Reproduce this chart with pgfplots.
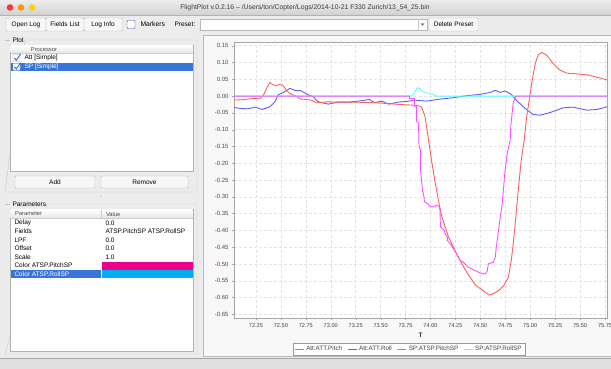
\documentclass[border=0pt]{standalone}
\usepackage{fontspec}
\setmainfont{Liberation Sans}
\usepackage{pgfplots}
\pgfplotsset{compat=1.18}
\definecolor{pitchc}{RGB}{255,95,95}
\definecolor{rollc}{RGB}{95,95,255}
\definecolor{pitchspc}{RGB}{255,80,255}
\definecolor{rollspc}{RGB}{90,255,255}
\definecolor{winbg}{RGB}{236,236,236}
\definecolor{selblue}{RGB}{56,117,215}
\definecolor{panelbg}{RGB}{248,248,248}
\newcommand\sm{\fontsize{6.5}{7}\selectfont}
\newcommand\tk{\fontsize{5.6}{6}\selectfont}
\begin{document}
\begin{tikzpicture}
\useasboundingbox (0pt,0pt) rectangle (611pt,-369pt);
\begin{scope}[x=1pt,y=-1pt]
% window background
\fill[winbg] (0,0) rectangle (611,369);
% title bar
\shade[top color=white!93!black, bottom color=white!82!black] (0,0) rectangle (611,15);
\draw[gray!60] (0,15) -- (611,15);
\fill[red!80!white] (10,7.5) circle (3.3);
\fill[orange!85!yellow] (21,7.5) circle (3.3);
\fill[yellow!70!orange] (32,7.5) circle (3.3);
\node[font=\fontsize{6.8}{7}\selectfont, text=black!75] at (305,7.5) {FlightPlot v.0.2.16 -- /Users/ton/Copter/Logs/2014-10-21 F330 Zurich/13\_54\_25.bin};
% toolbar
\tikzset{btn/.style={draw=gray!55, fill=white!97!black, rounded corners=1pt}}
\draw[btn] (6,18) rectangle (46,31);
\node[font=\sm] at (26,24.5) {Open Log};
\draw[btn] (46,18) rectangle (84,31);
\node[font=\sm] at (65,24.5) {Fields List};
\draw[btn] (84,18) rectangle (122,31);
\node[font=\sm] at (103,24.5) {Log Info};
\draw[rounded corners=1pt, draw=blue!50!gray, fill=white] (127,20.5) rectangle (135,28.5);
\node[font=\fontsize{6.8}{7}\selectfont, anchor=west] at (137,24.5) {Markers};
\node[font=\sm, anchor=west] at (171,24.5) {Preset:};
\draw[draw=gray!55, fill=white] (200,19) rectangle (427,30);
\fill[gray] (420.5,23.3) -- (424.5,23.3) -- (422.5,26) -- cycle;
\draw[gray!40] (418,19) -- (418,30);
\draw[btn] (429,18) rectangle (478,31);
\node[font=\sm] at (453.5,24.5) {Delete Preset};
% left panel: Plot group
\draw[gray!45] (5,40) -- (10,40);
\draw[gray!45] (25,40) -- (197,40) -- (197,192) -- (5,192) -- cycle;
\node[font=\sm, anchor=west] at (9,40) {Plot};
\fill[white] (10,45) rectangle (193,171);
\draw[gray!60] (10,45) rectangle (193,171);
\shade[top color=white, bottom color=gray!20] (10.5,45.5) rectangle (192.5,53);
\draw[gray!40] (10.5,53) -- (192.5,53);
\node[font=\fontsize{5.8}{6}\selectfont, text=black!70] at (44,49.3) {Processor};
% rows
\draw[fill=white, draw=gray!70, rounded corners=0.8pt] (13,54.5) rectangle (20,61.5);
\draw[selblue!90!black, line width=0.9pt] (14.3,58) -- (16.3,60.3) -- (20.5,54);
\node[font=\sm, anchor=west] at (21,58.2) {Att [Simple]};
\fill[selblue] (10.5,62.7) rectangle (192.5,71);
\draw[fill=white, draw=gray!70, rounded corners=0.8pt] (13,63.3) rectangle (20,70.3);
\draw[selblue!90!black, line width=0.9pt] (14.3,66.8) -- (16.3,69.1) -- (20.5,62.8);
\node[font=\sm, anchor=west, text=white] at (21,67) {SP [Simple]};
% add/remove buttons
\draw[btn] (15,176) rectangle (95,188);
\node[font=\sm] at (55,182) {Add};
\draw[btn] (101,176) rectangle (188,188);
\node[font=\sm] at (144.5,182) {Remove};
\fill[gray!60] (101,196) circle (0.6);
% Parameters group
\draw[gray!45] (5,204) -- (10,204);
\draw[gray!45] (47,204) -- (197,204) -- (197,354) -- (5,354) -- cycle;
\node[font=\sm, anchor=west] at (9,204) {Parameters};
\fill[white] (10,209) rectangle (193,351);
\draw[gray!60] (10,209) rectangle (193,351);
\shade[top color=white, bottom color=gray!20] (10.5,209.5) rectangle (192.5,218);
\draw[gray!40] (10.5,218) -- (192.5,218);
\draw[gray!40] (101,209.5) -- (101,218);
\node[font=\fontsize{5.8}{6}\selectfont, text=black!70, anchor=west] at (11.5,214) {Parameter};
\node[font=\fontsize{5.8}{6}\selectfont, text=black!70, anchor=west] at (102.5,214) {Value};
\node[font=\sm, anchor=west] at (11,223) {Delay};
\node[font=\sm, anchor=west] at (102,223) {0.0};
\node[font=\sm, anchor=west] at (11,231.5) {Fields};
\node[font=\sm, anchor=west] at (102,231.5) {ATSP.PitchSP ATSP.RollSP};
\node[font=\sm, anchor=west] at (11,240) {LPF};
\node[font=\sm, anchor=west] at (102,240) {0.0};
\node[font=\sm, anchor=west] at (11,248.5) {Offset};
\node[font=\sm, anchor=west] at (102,248.5) {0.0};
\node[font=\sm, anchor=west] at (11,257) {Scale};
\node[font=\sm, anchor=west] at (102,257) {1.0};
\node[font=\sm, anchor=west] at (11,265.5) {Color ATSP.PitchSP};
\fill[magenta] (102,262) rectangle (192.5,270);
\fill[selblue] (10.5,270.3) rectangle (100.5,278.3);
\node[font=\sm, anchor=west, text=white] at (11,274.3) {Color ATSP.RollSP};
\fill[cyan] (102,270.3) rectangle (192.5,278.3);
% chart panel
\fill[panelbg] (203,35) rectangle (611,356);
\draw[gray!55] (203,35) -- (611,35);
\draw[gray!55] (203,35) -- (203,356) -- (611,356);
% bottom bar
\fill[white!88!black] (0,358) rectangle (611,369);
\draw[gray!70] (0,358) -- (611,358);
\end{scope}
\begin{axis}[
  at={(234pt,-318pt)}, anchor=south west,
  scale only axis, width=373pt, height=276pt,
  xmin=72.03, xmax=75.77, ymin=-0.661, ymax=0.161,
  axis background/.style={fill=white},
  xtick={72.25,72.5,72.75,73,73.25,73.5,73.75,74,74.25,74.5,74.75,75,75.25,75.5,75.75},
  ytick={-0.65,-0.6,-0.55,-0.5,-0.45,-0.4,-0.35,-0.3,-0.25,-0.2,-0.15,-0.1,-0.05,0,0.05,0.1,0.15},
  tick pos=left, tick align=outside, major tick length=2pt,
  tick style={gray!70},
  axis line style={gray!70},
  grid=major, major grid style={densely dashed, gray!22, line width=0.4pt},
  xticklabel style={font=\tk, text=black!75},
  yticklabel style={font=\fontsize{6}{6}\selectfont, text=black!70},
  /pgf/number format/fixed,
  /pgf/number format/fixed zerofill,
  /pgf/number format/precision=2,
  /pgf/number format/assume math mode=true,
  xlabel={T},
  xlabel style={font=\fontsize{6.5}{7}\selectfont\bfseries, text=black!80, at={(axis description cs:0.5,-0.043)}, anchor=north},
  legend columns=4,
  legend style={name=leg, at={(0.469,-0.09)}, anchor=north, draw=none, fill=white, font=\fontsize{6.3}{7}\selectfont, inner sep=1pt,
    /tikz/every even column/.append style={column sep=3pt}},
  clip=true,
]
\addplot[rollc, line width=0.9pt, forget plot] coordinates {
(72.03,-0.034)(72.10,-0.037)(72.17,-0.038)(72.24,-0.033)(72.31,-0.040)(72.39,-0.032)(72.44,-0.017)(72.474,0.004)(72.524,0.010)(72.59,0.023)(72.64,0.017)(72.70,0.016)(72.77,0.004)(72.825,-0.002)(72.875,-0.017)(72.975,-0.024)(73.075,-0.018)(73.18,-0.018)(73.28,-0.015)(73.39,-0.010)(73.44,-0.020)(73.51,-0.015)(73.58,-0.024)(73.68,-0.018)(73.79,-0.015)(73.83,-0.012)(73.96,-0.015)(74.10,-0.009)(74.23,-0.005)(74.36,0.001)(74.50,0.005)(74.60,0.011)(74.65,0.017)(74.70,0.011)(74.75,0.015)(74.81,0.005)(74.86,-0.012)(74.95,-0.037)(75.03,-0.055)(75.10,-0.057)(75.20,-0.049)(75.33,-0.035)(75.43,-0.033)(75.57,-0.042)(75.67,-0.040)(75.77,-0.032)
};
\addplot[pitchc, line width=0.9pt, forget plot] coordinates {
(72.03,-0.012)(72.10,-0.011)(72.20,-0.008)(72.30,-0.006)(72.33,0.005)(72.36,0.025)(72.39,0.040)(72.42,0.034)(72.45,0.031)(72.49,0.035)(72.52,0.032)(72.56,0.015)(72.60,0.006)(72.65,0.000)(72.70,-0.009)(72.75,-0.010)(72.80,-0.012)(72.86,-0.020)(72.92,-0.019)(72.96,-0.017)(73.05,-0.018)(73.20,-0.018)(73.35,-0.019)(73.46,-0.020)(73.60,-0.023)(73.69,-0.025)(73.82,-0.027)(73.88,-0.029)(73.91,-0.033)(73.945,-0.06)(73.98,-0.13)(74.01,-0.19)(74.045,-0.255)(74.08,-0.31)(74.11,-0.355)(74.18,-0.419)(74.26,-0.469)(74.35,-0.518)(74.45,-0.563)(74.53,-0.580)(74.59,-0.593)(74.65,-0.586)(74.70,-0.575)(74.74,-0.562)(74.78,-0.540)(74.81,-0.49)(74.83,-0.44)(74.85,-0.379)(74.88,-0.28)(74.91,-0.191)(74.94,-0.131)(74.965,-0.06)(74.98,-0.032)(75.015,0.038)(75.05,0.097)(75.08,0.122)(75.115,0.130)(75.165,0.122)(75.23,0.097)(75.30,0.077)(75.37,0.068)(75.47,0.066)(75.57,0.063)(75.67,0.056)(75.77,0.048)
};
\addplot[rollspc, line width=0.9pt, forget plot] coordinates {
(72.03,0)(73.80,0)(73.84,0.008)(73.86,0.022)(73.875,0.025)(73.895,0.022)(73.91,0.015)(73.95,0.011)(74.02,0.005)(74.06,0)(75.77,0)
};
\addplot[pitchspc, line width=0.9pt, forget plot] coordinates {
(72.03,0)(73.79,0)(73.79,-0.007)(73.84,-0.007)(73.84,-0.03)(73.86,-0.03)(73.86,-0.075)(73.88,-0.08)(73.885,-0.15)(73.90,-0.16)(73.90,-0.22)(73.91,-0.25)(73.92,-0.28)(73.935,-0.30)(73.94,-0.315)(73.97,-0.32)(74.00,-0.33)(74.04,-0.33)(74.06,-0.325)(74.09,-0.33)(74.095,-0.34)(74.10,-0.39)(74.14,-0.40)(74.145,-0.41)(74.17,-0.42)(74.17,-0.43)(74.21,-0.445)(74.24,-0.46)(74.28,-0.48)(74.30,-0.49)(74.33,-0.495)(74.38,-0.51)(74.45,-0.52)(74.50,-0.527)(74.55,-0.53)(74.57,-0.52)(74.58,-0.50)(74.63,-0.495)(74.65,-0.48)(74.66,-0.45)(74.68,-0.405)(74.70,-0.36)(74.72,-0.32)(74.745,-0.23)(74.77,-0.17)(74.80,-0.13)(74.805,-0.09)(74.83,-0.02)(74.847,-0.007)(74.857,0)(75.77,0)
};
\addlegendimage{legend image code/.code={\draw[draw=pitchc, line width=0.9pt] (0pt,0pt) -- (9pt,0pt);}}
\addlegendentry{\textcolor{black!75}{Att:ATT.Pitch}}
\addlegendimage{legend image code/.code={\draw[draw=rollc, line width=0.9pt] (0pt,0pt) -- (9pt,0pt);}}
\addlegendentry{\textcolor{black!75}{Att:ATT.Roll}}
\addlegendimage{legend image code/.code={\draw[draw=pitchspc, line width=0.9pt] (0pt,0pt) -- (9pt,0pt);}}
\addlegendentry{\textcolor{black!75}{SP:ATSP.PitchSP}}
\addlegendimage{legend image code/.code={\draw[draw=rollspc, line width=0.9pt] (0pt,0pt) -- (9pt,0pt);}}
\addlegendentry{\textcolor{black!75}{SP:ATSP.RollSP}}
\end{axis}
\draw[gray!80] (leg.south west) rectangle (leg.north east);
\end{tikzpicture}
\end{document}
